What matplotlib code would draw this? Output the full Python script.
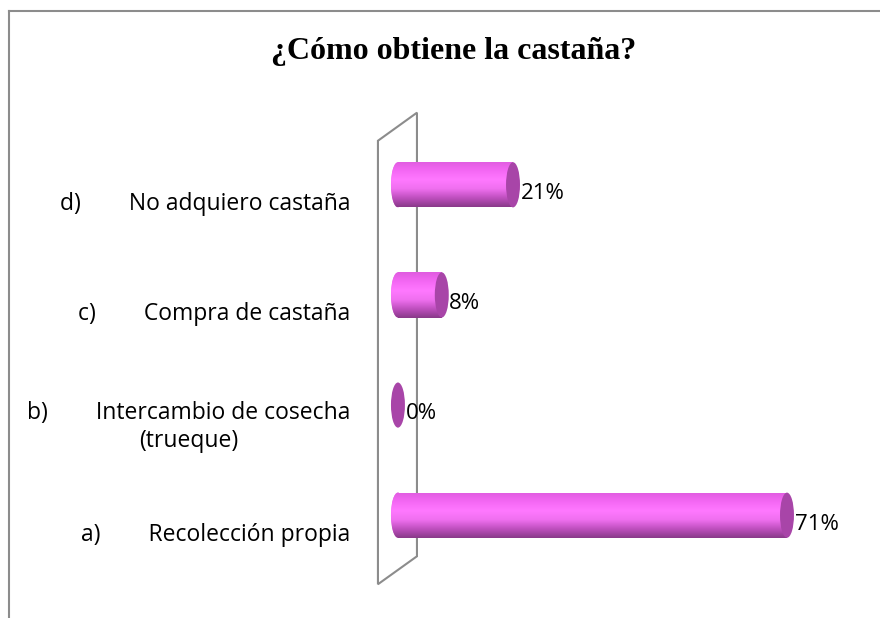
import numpy as np
import matplotlib.pyplot as plt
from matplotlib.patches import Ellipse, Polygon
from matplotlib.lines import Line2D
from matplotlib.colors import LinearSegmentedColormap

# datos
categorias = ['a)        Recolección propia',
              'b)        Intercambio de cosecha\n(trueque)',
              'c)        Compra de castaña',
              'd)        No adquiero castaña']
valores = [71, 0, 8, 21]
etiquetas = ['71%', '0%', '8%', '21%']
titulo = '¿Cómo obtiene la castaña?'

plt.rcParams['font.family'] = ['Open Sans', 'DejaVu Sans']

fig = plt.figure(figsize=(8.8, 6.18), dpi=100)
W, H = 880, 618
# ejes: izquierda 370px, derecha 850px, arriba 100px, abajo 600px
ax = fig.add_axes([370 / W, 1 - 600 / H, 480 / W, 500 / H])
ax.set_xlim(-5.1, 82.5)
ax.set_ylim(-0.77, 3.77)

# pared de fondo (efecto 3D)
pared = Polygon([(-3.65, -0.627), (-3.65, 3.40), (3.47, 3.655), (3.47, -0.373)],
                closed=True, facecolor='white', edgecolor='#8c8c8c', lw=1.5, zorder=1)
ax.add_patch(pared)

alto = 0.41
ancho_tapa = 2.55
grad = LinearSegmentedColormap.from_list(
    'cil', ['#8a3a8a', '#c050c0', '#f070f0', '#ff78ff', '#f468f4', '#e05ce0'])
img = np.linspace(0, 1, 64).reshape(-1, 1)

y = np.arange(len(valores))
barras = ax.barh(y, valores, height=alto, color='#f070f0', zorder=2)
for yi, v, b in zip(y, valores, barras):
    if v > 0:
        tapa_izq = Ellipse((0, yi), ancho_tapa, alto, facecolor='#f070f0',
                           edgecolor='none', zorder=2)
        ax.add_patch(tapa_izq)
        im = ax.imshow(img, cmap=grad, aspect='auto', origin='lower',
                       extent=(-ancho_tapa / 2, v, yi - alto / 2, yi + alto / 2),
                       zorder=3)
        cuerpo = Polygon([(0, yi - alto / 2), (v, yi - alto / 2),
                          (v, yi + alto / 2), (0, yi + alto / 2)],
                         transform=ax.transData)
        im.set_clip_path(cuerpo)
        im2 = ax.imshow(img, cmap=grad, aspect='auto', origin='lower',
                        extent=(-ancho_tapa / 2, v, yi - alto / 2, yi + alto / 2),
                        zorder=3)
        im2.set_clip_path(tapa_izq)
    tapa = Ellipse((v, yi), ancho_tapa, alto, facecolor='#a845a8',
                   edgecolor='none', zorder=4)
    ax.add_patch(tapa)

for yi, v, t in zip(y, valores, etiquetas):
    ax.text(v + ancho_tapa / 2 + 0.1, yi - 0.08, t, ha='left', va='center',
            fontsize=16, color='black', zorder=5)

ax.set_yticks(y - 0.15)
ax.set_yticklabels(categorias, fontsize=16.5, linespacing=1.25)
for lab in ax.get_yticklabels():
    lab.set_multialignment('center')
ax.tick_params(axis='y', length=0, pad=14)
ax.set_xticks([])
for s in ax.spines.values():
    s.set_visible(False)
ax.patch.set_alpha(0)

fig.text(454 / W, 1 - 52 / H, titulo, ha='center', va='center',
         fontsize=23, fontweight='bold', family='Liberation Serif')

# borde del gráfico
fig.add_artist(Line2D([8.5 / W, 8.5 / W], [0, 1 - 10.5 / H],
                      transform=fig.transFigure, color='#8c8c8c', lw=1.5))
fig.add_artist(Line2D([8.5 / W, 1], [1 - 10.5 / H, 1 - 10.5 / H],
                      transform=fig.transFigure, color='#8c8c8c', lw=1.5))

fig.savefig('out.png', dpi=100)
